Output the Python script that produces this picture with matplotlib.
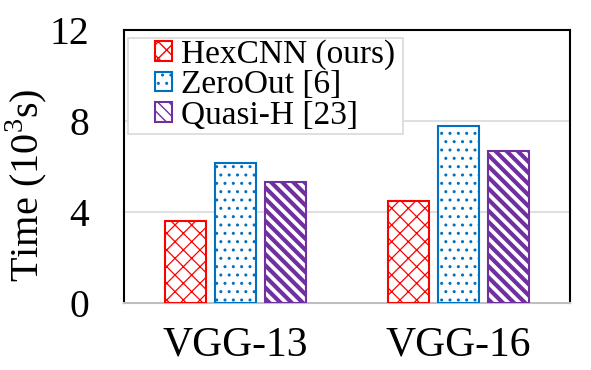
import numpy as np
import matplotlib
matplotlib.use('Agg')
import matplotlib.pyplot as plt
from matplotlib.patches import Rectangle

plt.rcParams['font.family'] = ['Liberation Serif', 'DejaVu Serif']
plt.rcParams['mathtext.fontset'] = 'custom'
plt.rcParams['mathtext.rm'] = 'Liberation Serif'

# Data
models = ['VGG-13', 'VGG-16']
methods = ['HexCNN (ours)', 'ZeroOut [6]', 'Quasi-H [23]']
hexcnn = [3.57, 4.47]
zeroout = [6.15, 7.78]
quasi = [5.31, 6.67]
yticks = [0, 4, 8, 12]

colors = ['#FF0000', '#0070C0', '#7030A0']
hatches = ['xx', '..', '\\\\\\']
hatch_lw = [0.9, 1.0, 3.0]

fig = plt.figure(figsize=(5.91, 3.70), dpi=100)
ax = fig.add_axes([0.2098, 0.1824, 0.7547, 0.7366])

x = np.arange(len(models))
width = 0.18
step = 0.224
for i, (vals, c, h, lw) in enumerate(zip([hexcnn, zeroout, quasi], colors, hatches, hatch_lw)):
    with plt.rc_context({'hatch.linewidth': lw}):
        ax.bar(x + (i - 1) * step, vals, width, facecolor='white', edgecolor=c,
               hatch=h, linewidth=1.5, label=methods[i], zorder=3)

ax.set_xlim(-0.5, 1.5)
ax.set_ylim(0, 12)
ax.set_yticks(yticks)
ax.set_xticks(x)
ax.set_xticklabels(models, fontsize=30)
ax.tick_params(axis='y', labelsize=28.5, length=0, pad=25)
ax.tick_params(axis='x', length=0, pad=17)
ax.yaxis.grid(True, color='#D9D9D9', linewidth=1.2, zorder=0)
ax.set_axisbelow(True)
ax.set_ylabel('Time (10$^{3}$s)', fontsize=29)
ax.yaxis.set_label_coords(-0.168, 0.43)

for side in ['left', 'top', 'right']:
    ax.spines[side].set_color('black')
    ax.spines[side].set_linewidth(1.5)
ax.spines['bottom'].set_color('#BFBFBF')
ax.spines['bottom'].set_linewidth(1.5)

# legend box (frame drawn separately in axes coordinates)
box = Rectangle((0.009, 0.620), 0.617, 0.352, transform=ax.transAxes,
                facecolor='white', edgecolor='#D9D9D9', linewidth=1.2, zorder=4)
ax.add_patch(box)
leg = ax.legend(loc='upper left', bbox_to_anchor=(0.058, 0.985), fontsize=24,
                frameon=False, handlelength=0.52, handleheight=0.52, handletextpad=0.25,
                labelspacing=0.0, borderpad=0.15, borderaxespad=0)
leg.set_zorder(5)

plt.savefig('out.png', dpi=100)
